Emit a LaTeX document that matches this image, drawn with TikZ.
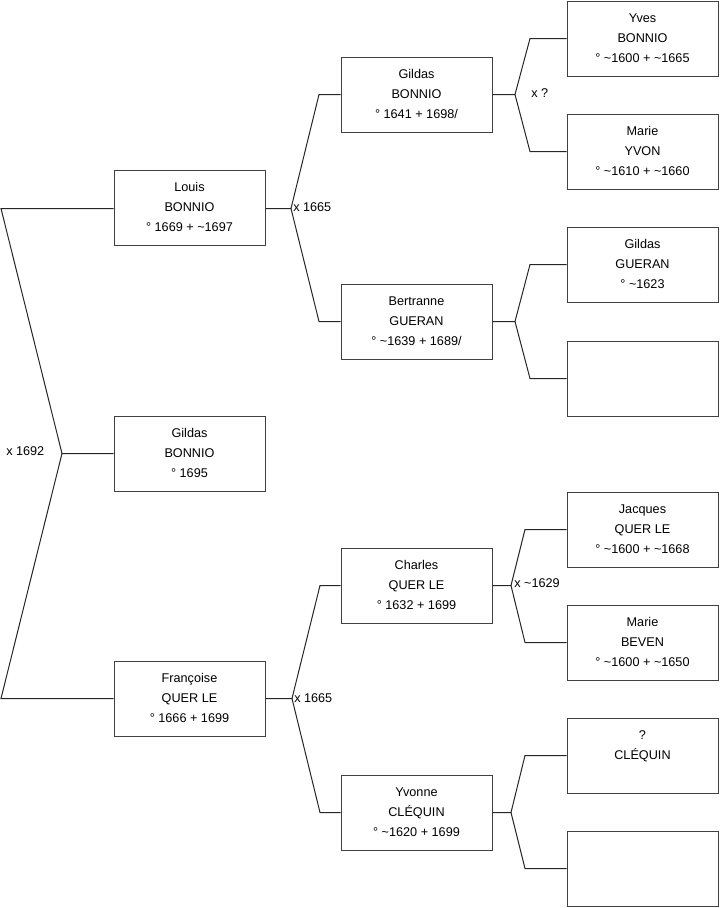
\documentclass[tikz,border=0pt]{standalone}
\usepackage{fontspec}
\setmainfont{Liberation Sans}
\newcommand{\tl}{\textasciitilde}
\begin{document}
\begin{tikzpicture}[x=0.75pt,y=-0.75pt,
  person/.style={draw=black!75, line width=0.75pt, minimum width=113.25pt, minimum height=56.25pt,
    inner sep=0pt, align=center, font=\fontsize{9.5}{15}\selectfont, fill=white},
  link/.style={draw=black!85, line width=0.75pt},
  mlabel/.style={anchor=west, inner sep=0pt, font=\fontsize{9.5}{11}\selectfont}]
\useasboundingbox (0,0) rectangle (719,908);
% generation 0/1
\node[person] (louis) at (189.5,207.5) {\strut Louis\\\strut BONNIO\\\strut ° 1669 + \tl1697};
\node[person, minimum height=56.25pt] (gildasC) at (189.5,453.5) {\strut Gildas\\\strut BONNIO\\\strut ° 1695};
\node[person] (francoise) at (189.5,698.5) {\strut Françoise\\\strut QUER LE\\\strut ° 1666 + 1699};
% generation 2
\node[person] (gildasB) at (416.5,94.5) {\strut Gildas\\\strut BONNIO\\\strut ° 1641 + 1698/};
\node[person] (bertranne) at (416.5,321.5) {\strut Bertranne\\\strut GUERAN\\\strut ° \tl1639 + 1689/};
\node[person] (charles) at (416.5,585.5) {\strut Charles\\\strut QUER LE\\\strut ° 1632 + 1699};
\node[person] (yvonne) at (416.5,812.5) {\strut Yvonne\\\strut CLÉQUIN\\\strut ° \tl1620 + 1699};
% generation 3
\node[person] (yves) at (642.5,38.5) {\strut Yves\\\strut BONNIO\\\strut ° \tl1600 + \tl1665};
\node[person] (marieY) at (642.5,151.5) {\strut Marie\\\strut YVON\\\strut ° \tl1610 + \tl1660};
\node[person] (gildasG) at (642.5,264.5) {\strut Gildas\\\strut GUERAN\\\strut ° \tl1623};
\node[person] (emptyA) at (642.5,378.5) {};
\node[person] (jacques) at (642.5,529.5) {\strut Jacques\\\strut QUER LE\\\strut ° \tl1600 + \tl1668};
\node[person] (marieB) at (642.5,642.5) {\strut Marie\\\strut BEVEN\\\strut ° \tl1600 + \tl1650};
\node[person] (cleq) at (642.5,755.5) {\strut ?\\\strut CLÉQUIN\\\strut};
\node[person] (emptyB) at (642.5,868.5) {};
% fork points
\coordinate (fa) at (62,453.5);
\coordinate (fa1) at (1,208.5);
\coordinate (fa2) at (1,698.5);
\coordinate (fb) at (291,208.5);
\coordinate (fb1) at (319,94.5);
\coordinate (fb2) at (319,321.5);
\coordinate (fc) at (292,698.5);
\coordinate (fc1) at (320,585.5);
\coordinate (fc2) at (320,812.5);
\coordinate (fd) at (515,94.5);
\coordinate (fd1) at (530,38.5);
\coordinate (fd2) at (530,151.5);
\coordinate (fe) at (515,321.5);
\coordinate (fe1) at (530,264.5);
\coordinate (fe2) at (530,378.5);
\coordinate (ff) at (511,585.5);
\coordinate (ff1) at (525,529.5);
\coordinate (ff2) at (525,642.5);
\coordinate (fg) at (511,812.5);
\coordinate (fg1) at (525,755.5);
\coordinate (fg2) at (525,868.5);
% connectors
\draw[link] (gildasC.west) -- (fa) -- (fa1) -- (fa1 -| louis.west);
\draw[link] (fa) -- (fa2) -- (francoise.west);
\draw[link] (fb -| louis.east) -- (fb) -- (fb1) -- (gildasB.west);
\draw[link] (fb) -- (fb2) -- (bertranne.west);
\draw[link] (francoise.east) -- (fc) -- (fc1) -- (charles.west);
\draw[link] (fc) -- (fc2) -- (yvonne.west);
\draw[link] (gildasB.east) -- (fd) -- (fd1) -- (yves.west);
\draw[link] (fd) -- (fd2) -- (marieY.west);
\draw[link] (bertranne.east) -- (fe) -- (fe1) -- (gildasG.west);
\draw[link] (fe) -- (fe2) -- (emptyA.west);
\draw[link] (charles.east) -- (ff) -- (ff1) -- (jacques.west);
\draw[link] (ff) -- (ff2) -- (marieB.west);
\draw[link] (yvonne.east) -- (fg) -- (fg1) -- (cleq.west);
\draw[link] (fg) -- (fg2) -- (emptyB.west);
% marriage labels
\node[mlabel] (m0) at (6,451) {x 1692};
\node[mlabel] (m1) at (293,207) {x 1665};
\node[mlabel] (m2) at (294,698) {x 1665};
\node[mlabel] (m3) at (531,93) {x ?};
\node[mlabel] (m4) at (514,583) {x \tl1629};
\end{tikzpicture}
\end{document}
